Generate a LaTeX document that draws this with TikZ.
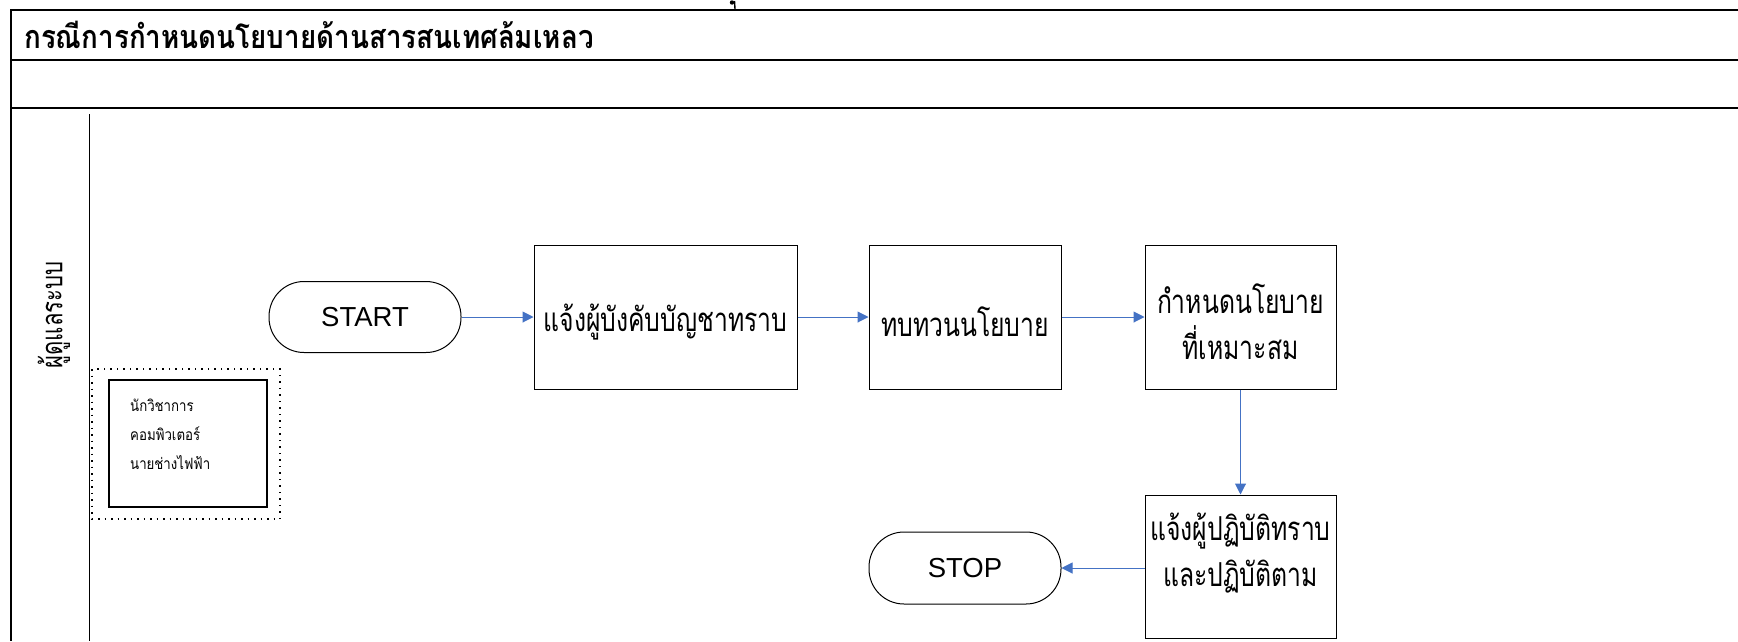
\documentclass[tikz,border=0pt]{standalone}
\usepackage{fontspec}
\setmainfont{Liberation Sans}
\newfontfamily\thai[Script=Thai,FakeStretch=0.75]{Loma}
\newfontfamily\thaititle[Script=Thai,FakeStretch=0.86]{Loma}
\newfontfamily\thaismall[Script=Thai,FakeStretch=0.85]{Loma}
\usetikzlibrary{arrows.meta}
\definecolor{arrowblue}{RGB}{68,114,196}
\begin{document}
\begin{tikzpicture}[x=1pt,y=-1pt,
  frame/.style={line width=2.4pt,black},
  pbox/.style={draw,line width=1pt,minimum width=#1,inner sep=0pt},
  term/.style={draw,line width=1pt,rounded corners=35pt,minimum width=192pt,minimum height=71pt,inner sep=0pt,font=\fontsize{27.5}{30}\selectfont},
  btext/.style={font=\thai\fontsize{33}{46}\selectfont,align=center,inner sep=0pt},
  flow/.style={draw=arrowblue,line width=1pt,-{Triangle[length=11pt,width=11pt]}}
]
\useasboundingbox (0,0) rectangle (1738,641);
% frame
\draw[frame] (11,10) -- (1738,10);
\draw[frame] (11,60) -- (1738,60);
\draw[frame] (11,108) -- (1738,108);
\draw[frame] (11,9) -- (11,641);
\draw[line width=1pt] (89,114) -- (89,641);
% cut-off glyph at top
\fill (732,2.5) circle (2.2);
\draw[line width=1.4pt] (734.5,1) -- (735,9);
% title
\node[anchor=west,font=\thaititle\bfseries\fontsize{32.3}{36}\selectfont,inner sep=0pt] (title) at (24,35) {กรณีการกำหนดนโยบายด้านสารสนเทศล้มเหลว};
% lane label
\node[rotate=90,font=\thai\fontsize{29.5}{34}\selectfont,inner sep=0pt] (lane) at (54,315) {ผู้ดูแลระบบ};
% legend
\draw[line width=1.5pt,dash pattern=on 1.5pt off 5pt] (92,369) rectangle (280,519);
\node[draw,line width=2pt,minimum width=158pt,minimum height=127pt,inner sep=0pt] (legend) at (188,443.5) {};
\node[anchor=north west,font=\thaismall\fontsize{15.6}{29}\selectfont,align=left,inner sep=0pt] (legtext) at (130,399) {นักวิชาการ\\คอมพิวเตอร์\\นายช่างไฟฟ้า};
% flow nodes
\node[term] (start) at (365,317) {START};
\node[pbox=263pt,minimum height=144pt] (b1) at (665.5,317) {};
\node[btext] (b1t) at (665.5,322) {แจ้งผู้บังคับบัญชาทราบ};
\node[pbox=192pt,minimum height=144pt] (b2) at (965,317) {};
\node[btext] (b2t) at (965,322) {ทบทวนนโยบาย};
\node[pbox=191pt,minimum height=144pt] (b3) at (1240.5,317) {};
\node[btext] (b3t) at (1240.5,322) {กำหนดนโยบาย\\ที่เหมาะสม};
\node[pbox=191pt,minimum height=143pt] (b4) at (1240.5,566.5) {};
\node[btext] (b4t) at (1240.5,553) {แจ้งผู้ปฏิบัติทราบ\\และปฏิบัติตาม};
\node[term,minimum height=72pt] (stop) at (965,568) {STOP};
% connectors
\draw[flow] (start) -- (b1);
\draw[flow] (b1) -- (b2);
\draw[flow] (b2) -- (b3);
\draw[flow] (b3) -- (b4);
\draw[flow] (b4.west |- stop.east) -- (stop.east);
\end{tikzpicture}
\end{document}
